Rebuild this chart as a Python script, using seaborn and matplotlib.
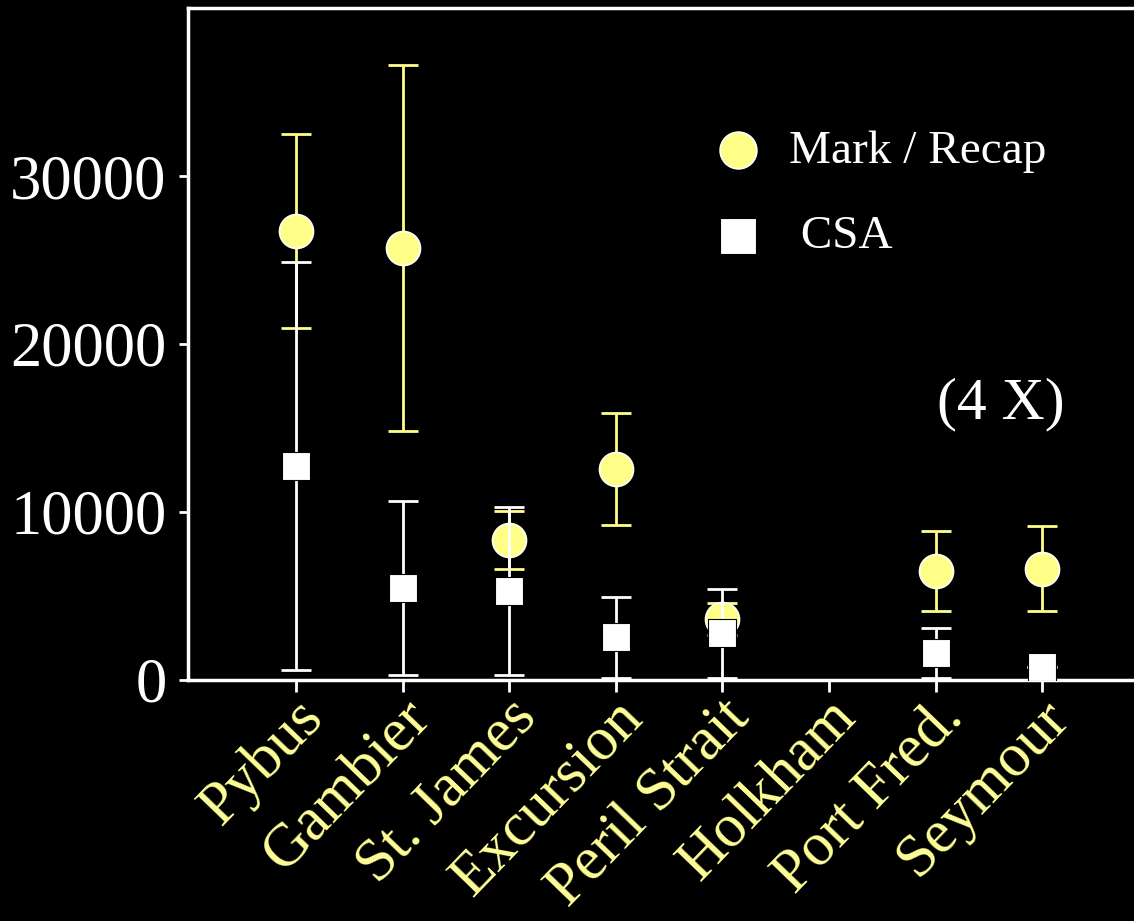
import numpy as np
import pandas as pd
import seaborn as sns
import matplotlib.pyplot as plt
from matplotlib.transforms import ScaledTranslation

# valeurs
sites = ['Pybus', 'Gambier', 'St. James', 'Excursion', 'Peril Strait',
         'Holkham', 'Port Fred.', 'Seymour']
mr_est = [26700, 25700, 8330, 12560, 3630, np.nan, 6490, 6610]
mr_low = [20950, 14820, 6600, 9230, 2680, np.nan, 4110, 4110]
mr_high = [32500, 36600, 10060, 15890, 4580, np.nan, 8870, 9170]
csa_est = [12740, 5480, 5300, 2560, 2800, np.nan, 1610, 770]
csa_low = [600, 300, 300, 100, 100, np.nan, 100, 770]
csa_high = [24880, 10650, 10300, 4940, 5420, np.nan, 3100, 770]

yellow = '#ffff88'
label_yellow = '#ffff99'

sns.set_style('ticks')
plt.rcParams['font.family'] = ['Liberation Serif', 'DejaVu Serif']

xpos = np.arange(len(sites))
df_mr = pd.DataFrame({'x': xpos, 'y': mr_est})
df_csa = pd.DataFrame({'x': xpos, 'y': csa_est})

fig = plt.figure(figsize=(11.34, 9.21), dpi=100, facecolor='black')
ax = fig.add_axes([0.1658, 0.2617, 0.8342, 0.7296])
ax.set_facecolor('black')

# barres d'erreur Mark / Recap
mr_e = np.array(mr_est)
ax.errorbar(xpos, mr_e, yerr=[mr_e - np.array(mr_low), np.array(mr_high) - mr_e],
            fmt='none', ecolor=yellow, elinewidth=2, capsize=11, capthick=2, zorder=2)
sns.scatterplot(data=df_mr, x='x', y='y', ax=ax, marker='o', s=600, color=yellow,
                edgecolor='white', linewidth=1.2, zorder=3, label='Mark / Recap')

# barres d'erreur CSA
csa_e = np.array(csa_est)
ax.errorbar(xpos, csa_e, yerr=[csa_e - np.array(csa_low), np.array(csa_high) - csa_e],
            fmt='none', ecolor='white', elinewidth=2, capsize=11, capthick=2, zorder=4)
sns.scatterplot(data=df_csa, x='x', y='y', ax=ax, marker='s', s=380, color='white',
                edgecolor='black', linewidth=0.8, zorder=5, label=' CSA')

ax.set_xlim(-1.013, 7.86)
ax.set_ylim(0, 40000)
ax.set_yticks([0, 10000, 20000, 30000])
ax.set_xticks(xpos)
ax.set_xticklabels(sites, rotation=46, ha='right', va='top', rotation_mode='anchor',
                   fontsize=44, color=label_yellow)
ax.set_xlabel('')
ax.set_ylabel('')
ax.tick_params(axis='y', colors='white', labelsize=45, length=6.5, width=2, pad=9)
ax.tick_params(axis='x', colors='white', length=8.6, width=2, pad=4)
for lab in ax.get_xticklabels():
    lab.set_color(label_yellow)
    lab.set_transform(lab.get_transform() + ScaledTranslation(-0.02, 0.08, fig.dpi_scale_trans))

for side in ['left', 'bottom', 'top']:
    ax.spines[side].set_color('white')
    ax.spines[side].set_linewidth(2.5)
ax.spines['right'].set_visible(False)

leg = ax.legend(loc='upper left', bbox_to_anchor=(0.511, 0.882), frameon=False,
                fontsize=34, labelcolor='white', handlelength=1.0, handletextpad=0.58,
                labelspacing=0.9)
for h in leg.legend_handles:
    h.set_sizes([700])

ax.text(0.859, 0.41, '(4 X)', transform=ax.transAxes, fontsize=43, color='white',
        ha='center', va='center')

fig.savefig('out.png', dpi=100, facecolor='black')
